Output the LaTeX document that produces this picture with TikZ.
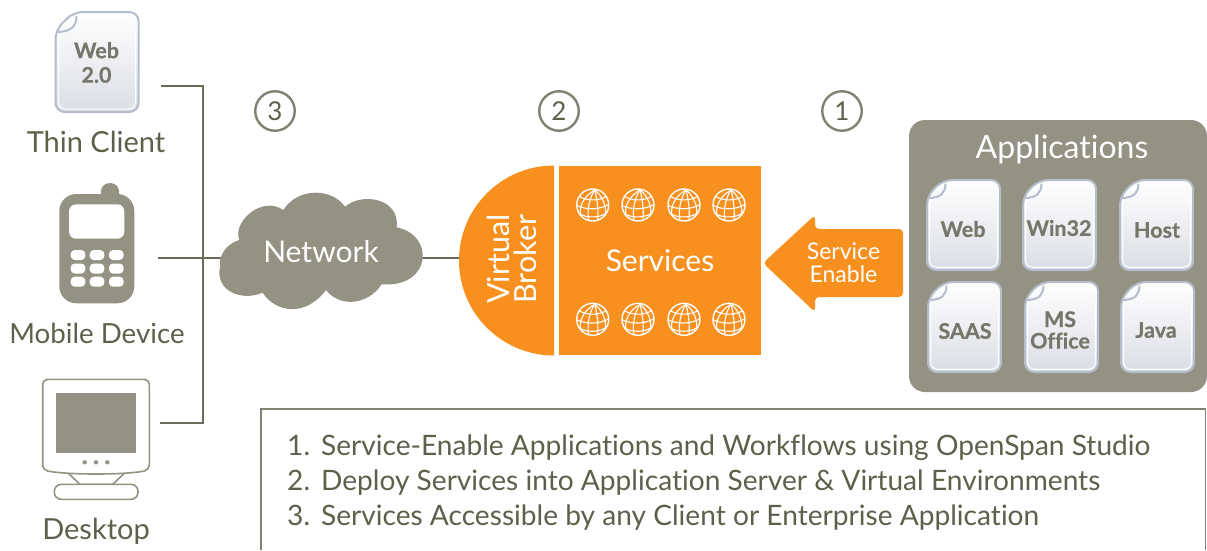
\documentclass[tikz,border=0pt]{standalone}
\usepackage{fontspec}
\setmainfont{Lato}[Ligatures=NoCommon]
\newfontfamily\docfont{Lato}[UprightFont=* Bold, FakeBold=0.5, Ligatures=NoCommon]
\definecolor{stone}{HTML}{949282}
\definecolor{wire}{HTML}{6B6B58}
\definecolor{caption}{HTML}{5F5F4C}
\definecolor{brand}{HTML}{F7901E}
\definecolor{docedge}{HTML}{B5BCCB}
\definecolor{doctext}{HTML}{77766A}
\newcommand{\pts}[1]{\fontsize{#1}{#1}\selectfont}
\begin{document}
\begin{tikzpicture}[
        x=1pt, y=-1pt,
        inner sep=0pt,
        % connectors and big shapes
        wireline/.style={draw=wire, line width=1.8pt},
        brandfill/.style={fill=brand},
        % text
        devicelabel/.style={font=\pts{29}, text=caption},
        whitelabel/.style={text=white},
        doclabel/.style={font=\docfont\pts{21.5}, text=doctext, align=center},
        listline/.style={anchor=west, font=\pts{28.1}, text=caption},
        stepmark/.style={circle, draw=wire!85, line width=2.4pt, minimum size=39.5pt, font=\pts{26}, text=caption},
        % document icon, top left corner at the pic position
        pics/docicon/.style={code={
            \draw[docedge, line width=2pt, top color=white, bottom color=docedge!50, rounded corners=9pt]
                (18,0) -- (83,0) -- (83,100) -- (0,100) -- (0,18) -- cycle;
            \draw[white, line width=1pt, rounded corners=7pt] (3,20) -- (3,97) -- (80,97) -- (80,20);
            \draw[docedge, line width=2pt] (21,4) .. controls (21,13) and (17,20) .. (1,20);
        }},
        % small globe, centre at the pic position
        pics/globe/.style={code={
            \draw[white, line width=1.4pt] (0,0) circle (16);
            \begin{scope}[white, line width=1.1pt]
                \draw (2,-15) .. controls (-9,-9) and (-14,2) .. (-12,10.5);
                \draw (2,-15) .. controls (-3,-8) and (-6,5) .. (-4,15.5);
                \draw (2,-15) .. controls (4,-8) and (6,5) .. (5,15.2);
                \draw (2,-15) .. controls (10,-9) and (14,2) .. (12.5,10);
                \draw (-13.5,-8.5) .. controls (-6,-4) and (6,-4) .. (13.5,-8.5);
                \draw (-16,0.5) .. controls (-6,5) and (6,5) .. (16,-0.5);
                \draw (-13,9) .. controls (-6,13) and (6,13) .. (13,8.5);
            \end{scope}
        }}
    ]
    \useasboundingbox (0,0) rectangle (1207,550);

    % --- connectors ---
    \coordinate (webend) at (161,86);
    \coordinate (busend) at (203,423);
    \coordinate (deskend) at (160,423);
    \coordinate (mobileend) at (158,258);
    \coordinate (cloudleft) at (225,258);
    \coordinate (cloudright) at (418,258);
    \coordinate (brokerleft) at (462,258);
    \draw[wireline] (webend) -| (busend) -- (deskend);
    \draw[wireline] (mobileend) -- (cloudleft);
    \draw[wireline] (cloudright) -- (brokerleft);

    % --- clients ---
    \pic (thindoc) at (55.5,12) {docicon};
    \node[doclabel] (thinlabel) at (96.5,62.5) {Web\\[3pt]2.0};
    \node[devicelabel] (thin) at (96,142) {Thin Client};

    \fill[stone] (101,196) -- (101,191) arc (180:360:9 and 8) -- (119,196) -- cycle;
    \fill[stone, rounded corners=17pt] (59.3,194) rectangle (134.3,303.3);
    \fill[white, rounded corners=7pt] (69,204.3) rectangle (124.3,238.7);
    \foreach \kx in {70.7,89.7,109} {
        \foreach \ky in {250,263.5,276.7} {
            \fill[white, rounded corners=4pt] (\kx,\ky) rectangle ++(14.6,10);
        }
    }
    \node[devicelabel, font=\pts{27.7}] (mobile) at (97,333) {Mobile Device};

    \draw[stone, line width=1.6pt, fill=white] (67.7,472.7) -- (80,484.3) -- (112.7,484.3) -- (125,472.7);
    \draw[stone, line width=1.6pt, fill=white, rounded corners=7pt] (54.3,499.3) -- (54.3,484.3) -- (138,484.3) -- (138,499.3) -- cycle;
    \draw[stone, line width=1.6pt, fill=white, rounded corners=5pt] (42.7,470) -- (42.7,379.3) -- (149.3,379.3) -- (149.3,470) .. controls (125,475) and (67,475) .. (42.7,470) -- cycle;
    \fill[stone] (56,392.7) rectangle (136,453.3);
    \foreach \dx in {84.7,96,107.3} {
        \fill[stone] (\dx,462.3) circle (2.2);
    }
    \node[devicelabel] (desktop) at (96,531) {Desktop};

    % --- network ---
    \fill[stone] (239.3,240) .. controls (232,222) and (262,195) .. (283.3,210)
        .. controls (298,187) and (332,188) .. (345,206.7)
        .. controls (362,192) and (400,198) .. (396.7,227.3)
        .. controls (435,235) and (432,288) .. (381.7,284.3)
        .. controls (368,305) and (340,308) .. (326,290)
        .. controls (305,318) and (275,312) .. (262.7,292.7)
        .. controls (240,302) and (215,290) .. (220,266.7)
        .. controls (218,255) and (228,243) .. (239.3,240) -- cycle;
    \node[whitelabel, font=\pts{30}] (network) at (321,252) {Network};

    % --- broker and services ---
    \fill[brand] (554,165.5) arc (270:90:95) -- cycle;
    \node[whitelabel, rotate=90, align=center, font=\fontsize{30.5}{27}\selectfont] (broker) at (511.5,259) {Virtual\\Broker};
    \node[brandfill, whitelabel, minimum width=202pt, minimum height=189pt, font=\pts{30}] (services) at (660,260.5) {Services};
    \foreach \gx in {592.7,638,684,729} {
        \pic at (\gx,205) {globe};
        \pic at (\gx,319.3) {globe};
    }

    % --- service enable arrow ---
    \fill[brand, rounded corners=4pt] (763,263) -- (815,215) -- (815,229) -- (903,229) -- (903,297) -- (815,297) -- (815,312) -- cycle;
    \node[whitelabel, align=center, font=\fontsize{23}{23.5}\selectfont] (enable) at (843.5,262.5) {Service\\Enable};

    % --- step marks ---
    \node[stepmark] (step3) at (275,111) {3};
    \node[stepmark] (step2) at (559,111) {2};
    \node[stepmark] (step1) at (842,111) {1};

    % --- applications ---
    \fill[stone, rounded corners=16pt] (909,120) rectangle (1207,392);
    \node[whitelabel, font=\pts{32}] (apps) at (1062,149) {Applications};
    \foreach \dx/\dy/\tx/\ty/\lab/\nm in {
        927/180/963/229/Web/web,
        1023/180/1059/228/Win32/win,
        1120/180/1157/230/Host/host,
        928/282/965/331/SAAS/saas,
        1025/282/1060/330/{MS\\Office}/office,
        1121/282/1156/330/Java/java} {
        \pic[xscale=0.88, yscale=0.9] at (\dx,\dy) {docicon};
        \node[doclabel] (\nm) at (\tx,\ty) {\lab};
    }

    % --- notes ---
    \draw[wire!85, line width=1.6pt] (261,550) |- (1205.5,409) -- (1205.5,550);
    \node[listline] (note1) at (287,447.5) {1.\hspace{11pt}Service-Enable Applications and Workflows using OpenSpan Studio};
    \node[listline] (note2) at (287,482.5) {2.\hspace{11pt}Deploy Services into Application Server \& Virtual Environments};
    \node[listline] (note3) at (287,517.5) {3.\hspace{11pt}Services Accessible by any Client or Enterprise Application};
\end{tikzpicture}
\end{document}
